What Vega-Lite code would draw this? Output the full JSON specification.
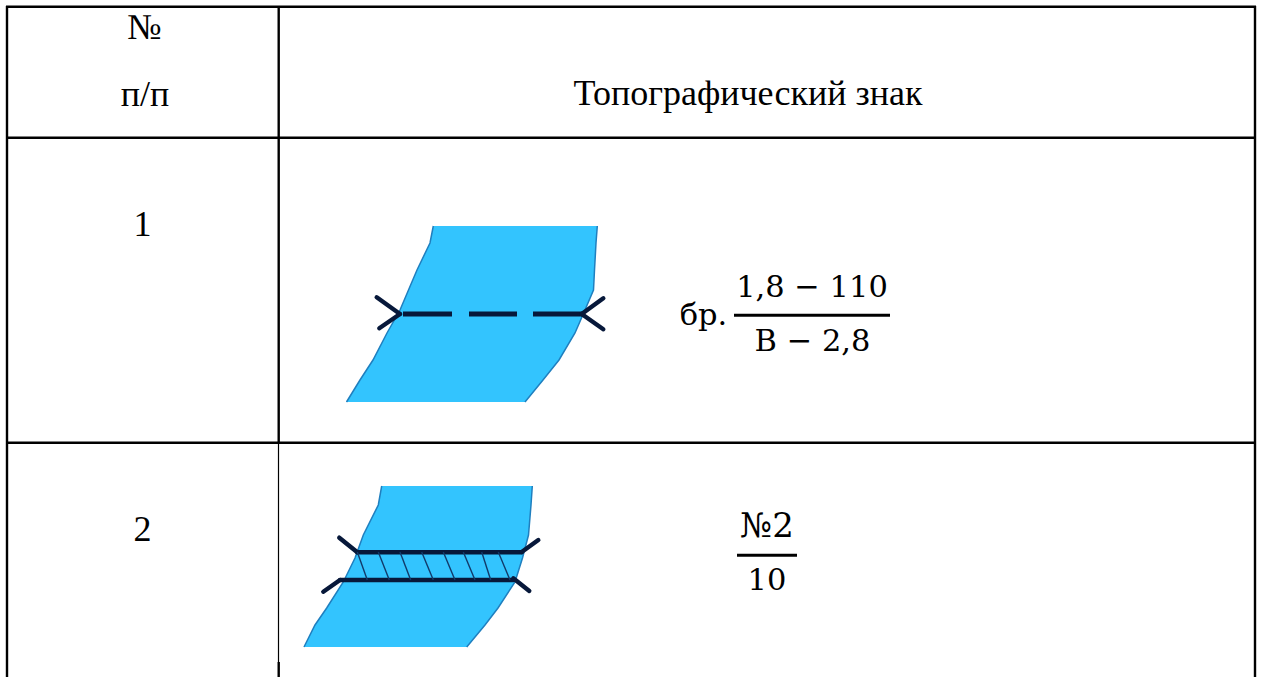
{"$schema":"https://vega.github.io/schema/vega-lite/v6.json","width":1262,"height":677,"padding":0,"autosize":{"type":"none"},"background":"white","config":{"view":{"stroke":null}},
"datasets":{
"rivers":[
{"river":"r1","y":226,"l":433.3,"r":597.3},{"river":"r1","y":243,"l":430,"r":596},{"river":"r1","y":270,"l":417,"r":594.5},{"river":"r1","y":290,"l":408.5,"r":593.5},{"river":"r1","y":310,"l":400,"r":585},{"river":"r1","y":333,"l":387,"r":575},{"river":"r1","y":360,"l":373,"r":559},{"river":"r1","y":380,"l":360,"r":543},{"river":"r1","y":402,"l":346.5,"r":525},
{"river":"r2","y":486,"l":381.7,"r":532.3},{"river":"r2","y":505,"l":378.3,"r":531},{"river":"r2","y":535,"l":363.3,"r":528.5},{"river":"r2","y":558,"l":355,"r":522.5},{"river":"r2","y":582,"l":343.3,"r":515},{"river":"r2","y":608,"l":326.7,"r":498},{"river":"r2","y":625,"l":315,"r":485},{"river":"r2","y":647,"l":304,"r":466.7}],
"segs":[
{"k":"table","x":6,"x2":1256,"y":6.7,"y2":6.7},{"k":"table","x":6,"x2":1256,"y":137.7,"y2":137.7},{"k":"table","x":6,"x2":1256,"y":442.7,"y2":442.7},{"k":"table","x":7,"x2":7,"y":6,"y2":677},{"k":"table","x":1255,"x2":1255,"y":6,"y2":677},{"k":"table","x":278.7,"x2":278.7,"y":6,"y2":443},{"k":"table","x":278.7,"x2":278.7,"y":662,"y2":677},
{"k":"thin","x":278.5,"x2":278.5,"y":443,"y2":662},
{"k":"bar","x":734,"x2":890,"y":315.3,"y2":315.3},{"k":"bar","x":737,"x2":797,"y":555.3,"y2":555.3},
{"k":"dash","x":403,"x2":452,"y":314,"y2":314},{"k":"dash","x":469,"x2":517,"y":314,"y2":314},{"k":"dash","x":533,"x2":583,"y":314,"y2":314},
{"k":"tick","x":376.7,"x2":400,"y":297.3,"y2":314},{"k":"tick","x":379.3,"x2":400,"y":328.3,"y2":314},{"k":"tick","x":603.3,"x2":581.7,"y":298.3,"y2":314},{"k":"tick","x":603.3,"x2":581.7,"y":329.3,"y2":314},
{"k":"tick","x":357.3,"x2":521.7,"y":552.3,"y2":552.3},{"k":"tick","x":339.3,"x2":357.3,"y":537.7,"y2":552.3},{"k":"tick","x":521.7,"x2":538.3,"y":552,"y2":540},{"k":"tick","x":340,"x2":513.3,"y":580,"y2":580},{"k":"tick","x":323.3,"x2":340,"y":591.7,"y2":580},{"k":"tick","x":513.3,"x2":529.3,"y":578.3,"y2":591},
{"k":"hatch","x":357.3,"x2":367.3,"y":552,"y2":580},{"k":"hatch","x":378.3,"x2":389.3,"y":552,"y2":580},{"k":"hatch","x":400,"x2":410.7,"y":552,"y2":580},{"k":"hatch","x":421.7,"x2":433.3,"y":552,"y2":580},{"k":"hatch","x":443.3,"x2":455,"y":552,"y2":580},{"k":"hatch","x":463.3,"x2":475,"y":552,"y2":580},{"k":"hatch","x":481.7,"x2":490.7,"y":552,"y2":580},{"k":"hatch","x":498.3,"x2":510,"y":552,"y2":580}],
"serif":[
{"t":"№","x":144.5,"y":39},{"t":"п/п","x":145,"y":106},{"t":"Топографический знак","x":748,"y":105},{"t":"1","x":142.5,"y":236},{"t":"2","x":142.5,"y":541}],
"math":[
{"t":"1,8 − 110","x":812,"y":297},{"t":"В − 2,8","x":812.5,"y":351},{"t":"бр.","x":703.5,"y":325},{"t":"10","x":767,"y":590}],
"mathBig":[{"t":"№2","x":767,"y":537}]
},
"layer":[
{"data":{"name":"rivers"},"mark":{"type":"area","orient":"horizontal","fill":"#33C4FE","opacity":1},"encoding":{"detail":{"field":"river","type":"nominal"},"y":{"field":"y","type":"quantitative","scale":{"domain":[677,0],"nice":false,"zero":false},"axis":null},"x":{"field":"l","type":"quantitative","stack":null,"scale":{"domain":[0,1262],"nice":false,"zero":false},"axis":null},"x2":{"field":"r"}}},
{"data":{"name":"rivers"},"mark":{"type":"line","stroke":"#1F7FBF","strokeWidth":1.5},"encoding":{"detail":{"field":"river"},"order":{"field":"y"},"y":{"field":"y","type":"quantitative"},"x":{"field":"l","type":"quantitative"}}},
{"data":{"name":"rivers"},"mark":{"type":"line","stroke":"#1F7FBF","strokeWidth":1.5},"encoding":{"detail":{"field":"river"},"order":{"field":"y"},"y":{"field":"y","type":"quantitative"},"x":{"field":"r","type":"quantitative"}}},
{"data":{"name":"segs"},"transform":[{"filter":"datum.k==='table'"}],"mark":{"type":"rule","color":"#000","strokeWidth":2.4},"encoding":{"x":{"field":"x","type":"quantitative"},"x2":{"field":"x2"},"y":{"field":"y","type":"quantitative"},"y2":{"field":"y2"}}},
{"data":{"name":"segs"},"transform":[{"filter":"datum.k==='thin'"}],"mark":{"type":"rule","color":"#000","strokeWidth":1.2},"encoding":{"x":{"field":"x","type":"quantitative"},"x2":{"field":"x2"},"y":{"field":"y","type":"quantitative"},"y2":{"field":"y2"}}},
{"data":{"name":"segs"},"transform":[{"filter":"datum.k==='bar'"}],"mark":{"type":"rule","color":"#000","strokeWidth":3},"encoding":{"x":{"field":"x","type":"quantitative"},"x2":{"field":"x2"},"y":{"field":"y","type":"quantitative"},"y2":{"field":"y2"}}},
{"data":{"name":"segs"},"transform":[{"filter":"datum.k==='dash'"}],"mark":{"type":"rule","color":"#07183A","strokeWidth":5},"encoding":{"x":{"field":"x","type":"quantitative"},"x2":{"field":"x2"},"y":{"field":"y","type":"quantitative"},"y2":{"field":"y2"}}},
{"data":{"name":"segs"},"transform":[{"filter":"datum.k==='tick'"}],"mark":{"type":"rule","color":"#07183A","strokeWidth":4.4,"strokeCap":"round"},"encoding":{"x":{"field":"x","type":"quantitative"},"x2":{"field":"x2"},"y":{"field":"y","type":"quantitative"},"y2":{"field":"y2"}}},
{"data":{"name":"segs"},"transform":[{"filter":"datum.k==='hatch'"}],"mark":{"type":"rule","color":"#123A6A","strokeWidth":1.4},"encoding":{"x":{"field":"x","type":"quantitative"},"x2":{"field":"x2"},"y":{"field":"y","type":"quantitative"},"y2":{"field":"y2"}}},
{"data":{"name":"serif"},"mark":{"type":"text","font":"Liberation Serif","fontSize":36,"align":"center","baseline":"alphabetic","color":"#000"},"encoding":{"x":{"field":"x","type":"quantitative"},"y":{"field":"y","type":"quantitative"},"text":{"field":"t"}}},
{"data":{"name":"math"},"mark":{"type":"text","font":"DejaVu Serif","fontSize":30.5,"align":"center","baseline":"alphabetic","color":"#000"},"encoding":{"x":{"field":"x","type":"quantitative"},"y":{"field":"y","type":"quantitative"},"text":{"field":"t"}}},
{"data":{"name":"mathBig"},"mark":{"type":"text","font":"DejaVu Serif","fontSize":34,"align":"center","baseline":"alphabetic","color":"#000"},"encoding":{"x":{"field":"x","type":"quantitative"},"y":{"field":"y","type":"quantitative"},"text":{"field":"t"}}}
],
"resolve":{"scale":{"x":"shared","y":"shared"}}}
